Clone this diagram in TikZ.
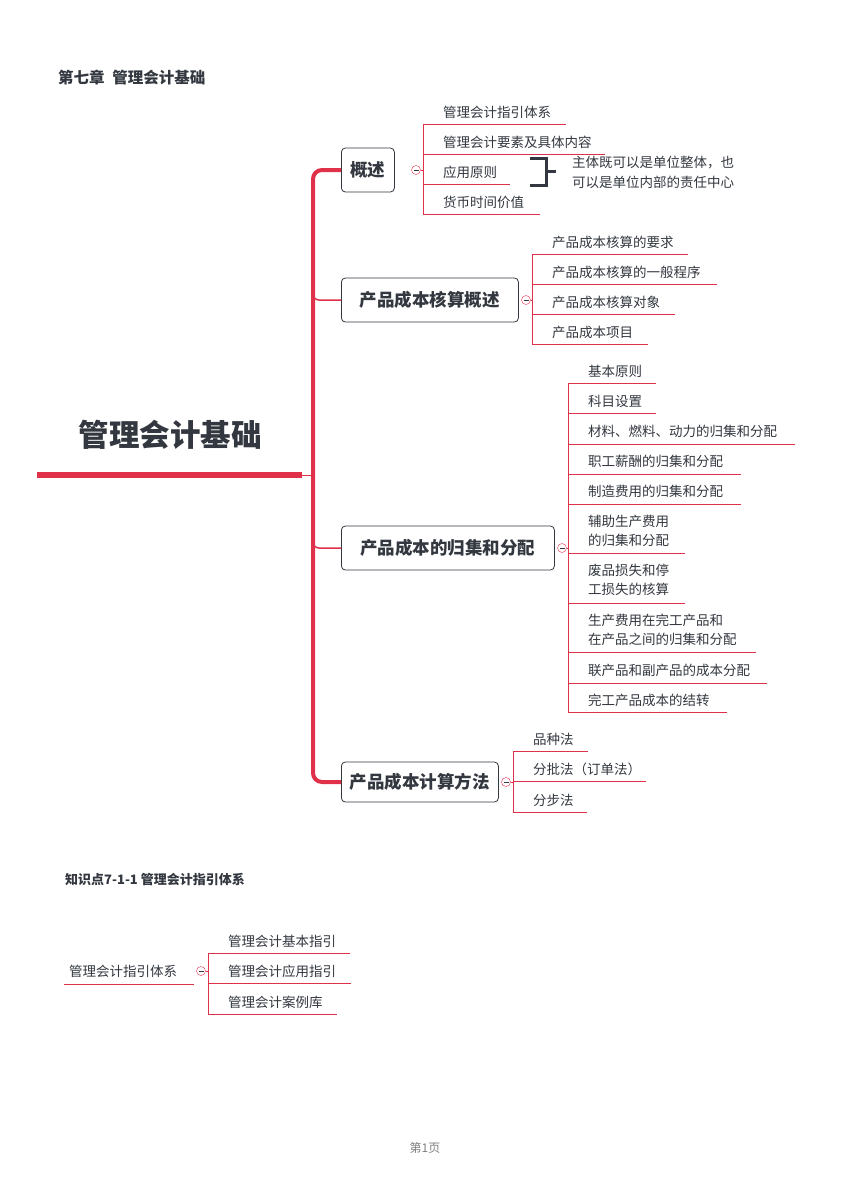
\documentclass[tikz,border=0pt]{standalone}
\usepackage{fontspec}
\setmainfont{Noto Sans CJK SC}
\usetikzlibrary{positioning, calc}
\definecolor{mapred}{HTML}{E0304A}
\definecolor{ink}{HTML}{333840}

\begin{document}
\begin{tikzpicture}[
  x=1pt, y=-1pt,
  every node/.style={inner sep=0pt, text=ink},
  leaf/.style={anchor=west, font=\fontsize{13.5}{19}\selectfont},
  branch/.style={draw=ink, thick, rounded corners=4pt, inner xsep=8pt, minimum height=44pt, anchor=west, font=\fontsize{17.5}{20}\selectfont\bfseries},
  fold/.style={draw=mapred, circle, minimum size=9pt, inner sep=0pt, fill=white},
  thinred/.style={draw=mapred, line width=0.9pt}
]
\useasboundingbox (0,0) rectangle (850,1202);
\fill[white] (0,0) rectangle (850,1202);

% Title
\node[anchor=west, font=\fontsize{15.5}{18}\selectfont\bfseries] (title) at (58,78) {第七章\enspace 管理会计基础};

% Root
\node[font=\fontsize{30.5}{34}\selectfont\bfseries] (root) at (170,435) {管理会计基础};
\draw[mapred, line width=6pt] (37,475) -- (302,475);
\draw[thinred] (302,475) -- (313,475);

% Branches
\node[branch, minimum width=53pt] (b1) at (341,170) {概述};
\node[branch, minimum width=177pt] (b2) at (341,300) {产品成本核算概述};
\node[branch, minimum width=213pt] (b3) at (341,548) {产品成本的归集和分配};
\node[branch, minimum width=157pt, minimum height=40pt] (b4) at (341,782) {产品成本计算方法};

% Spine
\draw[mapred, line width=4pt, rounded corners=9pt] (b1.west) -- (313,170) -- (313,782) -- (b4.west);
\draw[mapred, line width=1.5pt, rounded corners=6pt] (313,285) -- (313,300) -- (b2.west);
\draw[mapred, line width=1.5pt, rounded corners=6pt] (313,533) -- (313,548) -- (b3.west);

% Fold markers
\node[fold] (f1) at (416,170) {};
\node[fold] (f2) at (526,300) {};
\node[fold] (f3) at (562,548) {};
\node[fold] (f4) at (506,782) {};
\foreach \f in {f1,f2,f3,f4} \draw[ink, line width=0.6pt] ($(\f)+(-2.5,0)$) -- ($(\f)+(2.5,0)$);

% Leaves of b1
\draw[thinred] (f1) -- (423,170);
\draw[thinred] (423,124) -- (423,215);
\foreach \t/\y/\e [count=\i] in {管理会计指引体系/112/566, 管理会计要素及具体内容/142/605, 应用原则/172/510, 货币时间价值/202/540} {
  \node[leaf] (a\i) at (443,\y) {\t};
  \draw[thinred] (423,\y+12) -- (\e,\y+12);
}
% Note on 应用原则
\draw[ink, line width=3pt] (530,158) -- (546,158) -- (546,185) -- (530,185);
\draw[ink, line width=3pt] (546,171) -- (556,171);
\node[leaf, align=left, font=\fontsize{13.5}{20}\selectfont, anchor=west] (note) at (572,172) {主体既可以是单位整体，也\\可以是单位内部的责任中心};

% Leaves of b2
\draw[thinred] (f2) -- (532,300);
\draw[thinred] (532,254) -- (532,345);
\foreach \t/\y/\e [count=\i] in {产品成本核算的要求/242/688, 产品成本核算的一般程序/272/717, 产品成本核算对象/302/675, 产品成本项目/332/648} {
  \node[leaf] (c\i) at (552,\y) {\t};
  \draw[thinred] (532,\y+12) -- (\e,\y+12);
}

% Leaves of b3
\draw[thinred] (f3) -- (568,548);
\draw[thinred] (568,383) -- (568,712);
\foreach \t/\y/\u/\e [count=\i] in {
  基本原则/371/383/656, 科目设置/401/413/656, 材料、燃料、动力的归集和分配/431/444/795,
  职工薪酬的归集和分配/461/474/741, 制造费用的归集和分配/491/504/741,
  {辅助生产费用\\的归集和分配}/531/553/685, {废品损失和停\\工损失的核算}/580/603/685,
  {生产费用在完工产品和\\在产品之间的归集和分配}/630/652/756,
  联产品和副产品的成本分配/670/683/767, 完工产品成本的结转/700/712/727} {
  \node[leaf, align=left] (d\i) at (588,\y) {\t};
  \draw[thinred] (568,\u) -- (\e,\u);
}

% Leaves of b4
\draw[thinred] (f4) -- (513,782);
\draw[thinred] (513,751) -- (513,812);
\foreach \t/\y/\e [count=\i] in {品种法/739/588, 分批法（订单法）/769/646, 分步法/800/587} {
  \node[leaf] (e\i) at (533,\y) {\t};
  \draw[thinred] (513,\y+12) -- (\e,\y+12);
}

% Knowledge point
\node[anchor=west, font=\fontsize{13}{16}\selectfont\bfseries] (kp) at (65,880) {知识点7-1-1 管理会计指引体系};
\node[leaf] (k0) at (69,971) {管理会计指引体系};
\draw[thinred] (64,984) -- (194,984);
\node[fold] (f5) at (201,971) {};
\draw[ink, line width=0.6pt] ($(f5)+(-2.5,0)$) -- ($(f5)+(2.5,0)$);
\draw[thinred] (f5) -- (208,971);
\draw[thinred] (208,953) -- (208,1015);
\foreach \t/\y/\e [count=\i] in {管理会计基本指引/941/350, 管理会计应用指引/971/351, 管理会计案例库/1002/337} {
  \node[leaf] (k\i) at (228,\y) {\t};
  \draw[thinred] (208,\y+12) -- (\e,\y+12);
}

% Footer
\node[font=\fontsize{12}{14}\selectfont, text=gray] (page) at (425,1148) {第1页};
\end{tikzpicture}
\end{document}
